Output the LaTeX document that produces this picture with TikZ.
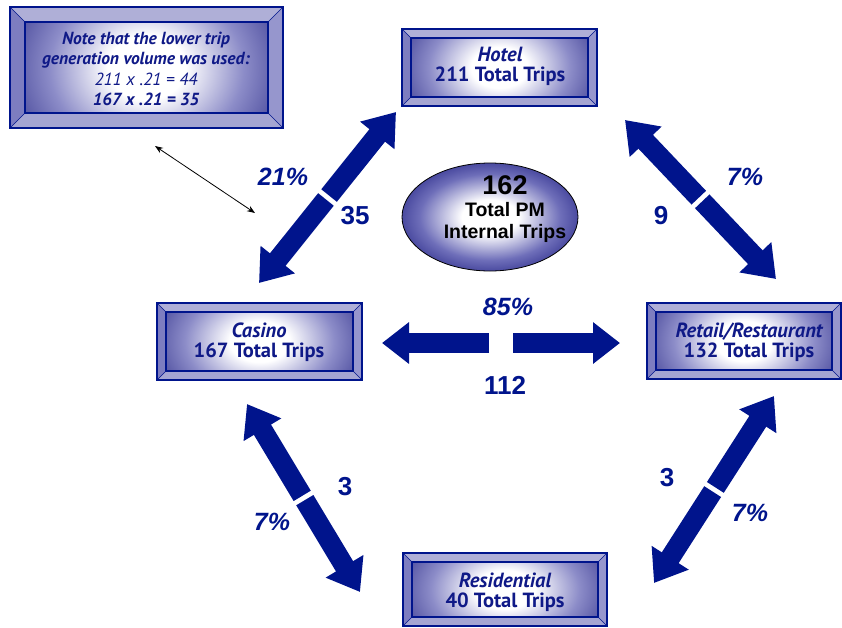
\documentclass[tikz,border=0pt]{standalone}
\usepackage{fontspec}
\setmainfont{Liberation Sans}
\newfontfamily\arialf{Liberation Sans}
\newfontfamily\boxf{PT Sans}
\usetikzlibrary{arrows.meta,calc,fit,shapes.geometric}
\definecolor{navy}{RGB}{0,20,140}
\definecolor{boxtxt}{RGB}{15,25,135}
\definecolor{boxblue}{RGB}{50,50,140}
\definecolor{boxmid}{RGB}{140,140,200}
\definecolor{ellblue}{RGB}{25,25,125}
\definecolor{ellmid}{RGB}{110,110,185}
\definecolor{bevtopc}{RGB}{175,175,215}
\definecolor{bevbotc}{RGB}{165,165,210}
\definecolor{bevleftc}{RGB}{125,125,192}
\definecolor{bevrightc}{RGB}{150,150,205}
\pgfdeclareradialshading{boxshade}{\pgfpoint{0bp}{0bp}}{color(0bp)=(white); color(8bp)=(white); color(20bp)=(boxmid); color(33bp)=(boxblue); color(75bp)=(boxblue)}
\pgfdeclareradialshading{ellshade}{\pgfpoint{0bp}{0bp}}{color(0bp)=(white); color(8bp)=(white); color(20bp)=(ellmid); color(32bp)=(ellblue); color(75bp)=(ellblue)}
\tikzset{
  bigarrow/.style={draw=navy, line width=20pt, -{Triangle[width=42pt,length=30pt]}},
  harrow/.style={draw=navy, line width=20pt, -{Triangle[width=40pt,length=27pt]}},
  numlab/.style={text=navy, font=\arialf\bfseries\fontsize{26}{30}\selectfont, inner sep=0},
  pctlab/.style={text=navy, font=\arialf\bfseries\itshape\fontsize{25}{30}\selectfont, inner sep=0},
  boxtext/.style={text=boxtxt, align=center, inner sep=0, font=\boxf\bfseries\fontsize{20.5}{20}\selectfont},
  notetext/.style={text=boxtxt, align=center, inner sep=0, font=\boxf\fontsize{17.5}{20.5}\selectfont},
  elltext/.style={text=black, align=center, inner sep=0, font=\arialf\bfseries},
}
\newcommand\bevbox[6]{%
  \pgfmathsetmacro\bvax{#2+#6}\pgfmathsetmacro\bvay{#3+#6}%
  \pgfmathsetmacro\bvbx{#4-#6}\pgfmathsetmacro\bvby{#5-#6}%
  \pgfmathsetmacro\bvey{(#5-#3)*0.45}%
  \fill[bevtopc] (#2,#3) -- (#4,#3) -- (\bvbx,\bvay) -- (\bvax,\bvay) -- cycle;
  \fill[bevbotc] (#2,#5) -- (#4,#5) -- (\bvbx,\bvby) -- (\bvax,\bvby) -- cycle;
  \fill[bevleftc] (#2,#3) -- (\bvax,\bvay) -- (\bvax,\bvby) -- (#2,#5) -- cycle;
  \fill[bevrightc] (#4,#3) -- (\bvbx,\bvay) -- (\bvbx,\bvby) -- (#4,#5) -- cycle;
  \begin{scope}
    \clip (\bvax,\bvay) rectangle (\bvbx,\bvby);
    \shade[shading=boxshade] (\bvax,\bvay-\bvey) rectangle (\bvbx,\bvby+\bvey);
  \end{scope}
  \draw[navy, line width=0.6pt] (#2,#3) -- (\bvax,\bvay) (#4,#3) -- (\bvbx,\bvay)
     (#2,#5) -- (\bvax,\bvby) (#4,#5) -- (\bvbx,\bvby);
  \draw[navy, line width=1.1pt] (#2,#3) rectangle (#4,#5);
  \draw[navy, line width=1.1pt] (\bvax,\bvay) rectangle (\bvbx,\bvby);
  \node[inner sep=0, fit={(#2,#3) (#4,#5)}] (#1) {};
}
\begin{document}
\begin{tikzpicture}[x=1pt,y=-1pt]
\useasboundingbox (0,0) rectangle (842,627);
% boxes
\bevbox{note}{10}{7}{283}{128}{15}
\bevbox{hotel}{402}{29}{597}{106}{9}
\bevbox{casino}{157}{303}{362}{380}{9}
\bevbox{retail}{647}{303}{841}{379}{9}
\bevbox{resid}{403}{553}{607}{626}{9}
\node[notetext] (notetxt) at (146,69) {\bfseries\itshape Note that the lower trip\\
  \bfseries\itshape generation volume was used:\\
  \itshape 211 x .21 = 44\\
  \bfseries\itshape 167 x .21 = 35};
\node[boxtext] (hoteltxt) at (500,66) {\itshape Hotel\\211 Total Trips};
\node[boxtext] (casinotxt) at (259,342) {\itshape Casino\\167 Total Trips};
\node[boxtext] (retailtxt) at (749,342) {\itshape Retail/Restaurant\\132 Total Trips};
\node[boxtext] (residtxt) at (505,592) {\itshape Residential\\40 Total Trips};
% ellipse
\node[ellipse, draw=black, line width=0.8pt, minimum width=176pt, minimum height=108pt, inner sep=0, shading=ellshade] (pm) at (490,217) {};
\node[elltext, font=\arialf\bfseries\fontsize{27}{30}\selectfont] (pmnum) at (505,185) {162};
\node[elltext, font=\arialf\bfseries\fontsize{19.5}{22}\selectfont] (pmtxt) at (505,222) {Total PM\\Internal Trips};
% arrow end points
\coordinate (a1) at (396,112); \coordinate (a2) at (259,283);
\coordinate (b1) at (625,120); \coordinate (b2) at (776,279);
\coordinate (c1) at (382,343); \coordinate (c2) at (620,343);
\coordinate (d1) at (247,404); \coordinate (d2) at (360,592);
\coordinate (e1) at (774,396); \coordinate (e2) at (654,583);
\foreach \p/\q in {a1/a2,b1/b2,d1/d2,e1/e2}{
  \coordinate (m) at ($(\p)!0.5!(\q)$);
  \draw[bigarrow] ($(m)!2.5pt!(\p)$) -- (\p);
  \draw[bigarrow] ($(m)!2.5pt!(\q)$) -- (\q);
}
\coordinate (cm) at ($(c1)!0.5!(c2)$);
\draw[harrow] ($(cm)!12pt!(c1)$) -- (c1);
\draw[harrow] ($(cm)!12pt!(c2)$) -- (c2);
% labels
\node[pctlab] (l21) at (283,177) {21\%};
\node[numlab] (l35) at (355,216) {35};
\node[pctlab] (l7a) at (745,177) {7\%};
\node[numlab] (l9) at (661,216) {9};
\node[pctlab] (l85) at (508,307) {85\%};
\node[numlab] (l112) at (505,385) {112};
\node[numlab] (l3a) at (345,487) {3};
\node[pctlab] (l7b) at (272,522) {7\%};
\node[numlab] (l3b) at (667,478) {3};
\node[pctlab] (l7c) at (750,513) {7\%};
% thin pointer
\coordinate (t1) at (155,146); \coordinate (t2) at (255,213);
\draw[black, line width=0.8pt, {Stealth[length=8pt,width=6pt]}-{Stealth[length=8pt,width=6pt]}] (t1) -- (t2);
\end{tikzpicture}
\end{document}
